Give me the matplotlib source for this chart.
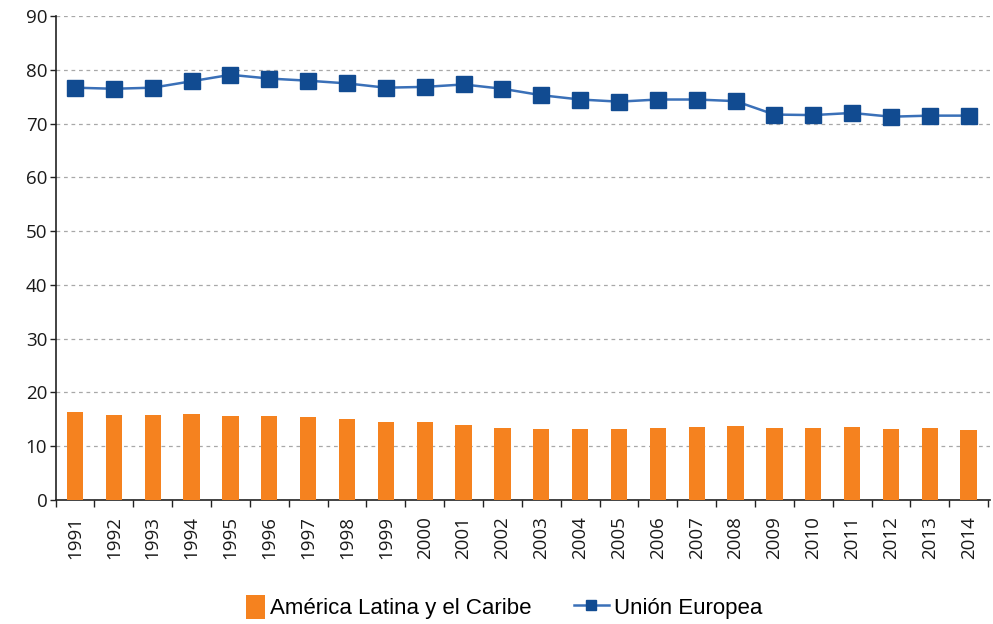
import matplotlib
matplotlib.use("Agg")
import matplotlib.pyplot as plt
from matplotlib.lines import Line2D
from matplotlib.patches import Patch, Rectangle
from matplotlib.legend_handler import HandlerPatch
import numpy as np

years = [str(y) for y in range(1991, 2015)]
america_latina = [16.4, 15.8, 15.8, 16.0, 15.6, 15.6, 15.5, 15.1, 14.4, 14.4, 13.9, 13.45,
                  13.1, 13.1, 13.1, 13.45, 13.6, 13.8, 13.45, 13.45, 13.6, 13.25, 13.45, 13.0]
union_europea = [76.7, 76.5, 76.7, 77.9, 79.1, 78.4, 78.0, 77.5, 76.7, 76.85, 77.3, 76.5,
                 75.3, 74.5, 74.1, 74.5, 74.5, 74.2, 71.7, 71.6, 72.0, 71.3, 71.5, 71.5]
yticks = [0, 10, 20, 30, 40, 50, 60, 70, 80, 90]
legend_labels = ["América Latina y el Caribe", "Unión Europea"]

orange = "#F5821F"
blue_marker = "#114B91"
blue_line = "#3A70B8"

fig = plt.figure(figsize=(9.93, 6.24), dpi=100)
ax = fig.add_axes([0.056, 0.199, 0.941, 0.775])

x = np.arange(len(years))
ax.bar(x, america_latina, width=0.42, color=orange, zorder=3)
ax.plot(x, union_europea, color=blue_line, lw=1.8, marker="s", markersize=12,
        markerfacecolor=blue_marker, markeredgecolor=blue_marker, zorder=4)

ax.set_xlim(-0.5, 23.55)
ax.set_ylim(0, 90)
ax.set_yticks(yticks)
ax.set_yticklabels([str(v) for v in yticks], fontsize=13.5, family="Open Sans", color="#1a1a1a")
ax.tick_params(axis="y", length=4, width=1, pad=2, color="#222222")
ax.yaxis.grid(True, linestyle=(0, (3, 3)), color="#a8a8a8", lw=0.9, zorder=0)

ax.set_xticks(x)
ax.set_xticklabels(years, rotation=90, fontsize=13.5, family="Open Sans", color="#1a1a1a")
ax.tick_params(axis="x", which="major", length=0, pad=12)
ax.set_xticks(np.arange(-0.5, 24, 1), minor=True)
ax.tick_params(axis="x", which="minor", length=5, width=1, color="#222222")

for s in ["top", "right"]:
    ax.spines[s].set_visible(False)
for s in ["left", "bottom"]:
    ax.spines[s].set_color("#222222")
    ax.spines[s].set_linewidth(1.2)


def narrow_patch(legend, orig_handle, xdescent, ydescent, width, height, fontsize):
    w = 0.55 * width
    h = height * 1.15
    return Rectangle((width - w - xdescent, -ydescent - (h - height) / 2), w, h)


handles = [Patch(facecolor=orange, edgecolor="none"),
           Line2D([0], [0], color=blue_line, lw=1.8, marker="s", markersize=7,
                  markerfacecolor=blue_marker, markeredgecolor=blue_marker)]
fig.legend(handles, legend_labels, loc="center", bbox_to_anchor=(0.500, 0.026), ncol=2,
           frameon=False, prop={"family": "Liberation Sans", "size": 16},
           handlelength=1.55, handleheight=1.1, handletextpad=0.25, columnspacing=1.9,
           handler_map={Patch: HandlerPatch(patch_func=narrow_patch)})

fig.savefig("out.png", dpi=100)
